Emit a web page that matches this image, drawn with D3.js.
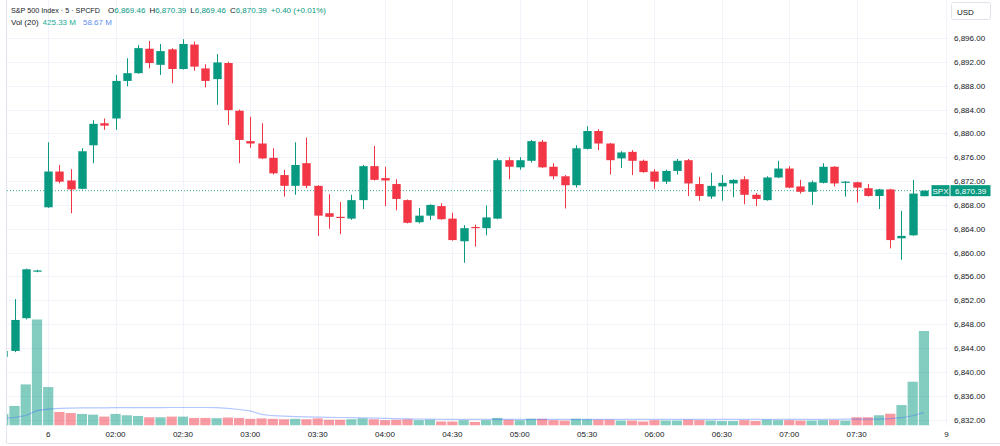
<!DOCTYPE html>
<html>
<head>
<meta charset="utf-8">
<script src="https://cdn.jsdelivr.net/npm/d3@7"></script>
<style>
  body { margin: 0; background: #fff; }
  svg { display: block; font-family: "Liberation Sans", Arial, sans-serif; }
</style>
</head>
<body>
<svg id="chart" width="1000" height="446"></svg>
<script>
// --- Data (5 min bars, first bar index -4) ---
const firstIndex = -4;
const opens = [6842.5, 6843.5, 6849.0, 6856.8, 6867.6, 6873.6, 6872.1, 6870.7, 6878.0, 6881.7,
  6882.5, 6888.8, 6890.1, 6894.2, 6891.5, 6894.1, 6890.8, 6894.9, 6890.9, 6889.1,
  6891.8, 6883.8, 6878.7, 6878.3, 6875.9, 6873.0, 6871.2, 6875.0, 6871.2, 6866.6,
  6866.0, 6865.7, 6868.8, 6874.5, 6872.5, 6871.5, 6868.8, 6865.1, 6866.2, 6867.8,
  6865.7, 6861.9, 6864.3, 6864.1, 6865.7, 6875.5, 6874.3, 6875.4, 6878.6, 6874.4,
  6872.8, 6871.3, 6877.4, 6880.4, 6878.3, 6875.8, 6876.9, 6875.4, 6873.6, 6871.9,
  6873.7, 6875.5, 6871.5, 6869.4, 6871.1, 6871.6, 6872.3, 6869.7, 6868.8, 6872.6,
  6874.1, 6871.1, 6870.2, 6871.7, 6874.4, 6871.7, 6871.8, 6870.8, 6869.5, 6870.6,
  6862.4, 6862.9, 6869.46];
const highs = [6843.6, 6852.2, 6857.3, 6857.1, 6878.5, 6874.7, 6874.0, 6877.5, 6882.2, 6882.5,
  6889.8, 6892.6, 6894.8, 6895.5, 6895.0, 6894.3, 6895.8, 6895.4, 6891.6, 6893.3,
  6892.0, 6884.0, 6882.8, 6881.7, 6877.5, 6873.9, 6878.5, 6879.3, 6871.3, 6869.8,
  6868.5, 6869.7, 6874.7, 6877.9, 6874.4, 6872.3, 6868.9, 6867.5, 6868.1, 6868.3,
  6866.7, 6864.6, 6864.7, 6867.9, 6875.8, 6876.0, 6876.0, 6878.9, 6878.9, 6875.0,
  6873.0, 6878.0, 6881.2, 6880.7, 6878.4, 6877.0, 6877.2, 6875.6, 6874.0, 6873.9,
  6875.7, 6875.7, 6872.7, 6873.4, 6873.0, 6872.3, 6872.8, 6870.0, 6872.8, 6875.4,
  6874.5, 6872.2, 6872.1, 6875.0, 6874.5, 6872.0, 6871.9, 6871.5, 6870.7, 6870.7,
  6867.0, 6872.2, 6870.39];
const lows = [6842.4, 6843.3, 6848.8, 6856.7, 6867.5, 6871.6, 6866.6, 6870.6, 6875.0, 6880.6,
  6880.6, 6887.9, 6890.0, 6890.9, 6889.8, 6888.4, 6890.7, 6890.5, 6887.7, 6884.8,
  6881.4, 6875.0, 6877.6, 6875.7, 6873.1, 6869.4, 6869.7, 6870.8, 6862.8, 6864.0,
  6863.1, 6865.5, 6867.3, 6872.1, 6867.8, 6867.1, 6864.9, 6864.9, 6865.5, 6865.5,
  6862.0, 6858.3, 6861.0, 6862.9, 6865.6, 6872.3, 6873.9, 6875.1, 6874.2, 6872.3,
  6867.4, 6870.9, 6877.3, 6877.2, 6873.1, 6874.2, 6873.0, 6873.4, 6870.7, 6871.5,
  6873.1, 6869.5, 6868.7, 6869.0, 6868.7, 6869.3, 6868.1, 6867.8, 6868.7, 6872.5,
  6870.8, 6869.9, 6868.0, 6871.6, 6871.1, 6869.4, 6868.4, 6869.4, 6867.3, 6860.7,
  6858.8, 6862.8, 6869.46];
const closes = [6843.5, 6848.7, 6857.2, 6857.0, 6873.6, 6871.9, 6870.6, 6877.0, 6881.6, 6881.3,
  6888.8, 6890.1, 6894.3, 6891.8, 6893.8, 6890.8, 6895.0, 6891.2, 6888.8, 6891.9,
  6883.9, 6878.9, 6878.3, 6875.8, 6873.3, 6871.2, 6874.7, 6871.2, 6866.2, 6866.0,
  6865.8, 6868.8, 6874.5, 6872.2, 6872.1, 6869.0, 6865.0, 6866.2, 6868.0, 6865.6,
  6862.1, 6864.1, 6864.1, 6865.9, 6875.5, 6874.4, 6875.5, 6878.7, 6874.3, 6872.8,
  6871.3, 6877.5, 6880.4, 6878.3, 6875.5, 6876.8, 6875.4, 6873.5, 6871.9, 6873.7,
  6875.4, 6871.6, 6869.5, 6871.2, 6871.7, 6872.2, 6869.7, 6869.0, 6872.6, 6874.1,
  6870.9, 6870.2, 6871.8, 6874.4, 6871.6, 6871.9, 6870.9, 6869.5, 6870.6, 6862.1,
  6862.8, 6869.9, 6870.39];
// volume in millions
const volumes = [52, 88, 185, 477, 173, 61, 56, 52, 49, 40,
  52, 46, 43, 37, 37, 40, 40, 34, 34, 33,
  36, 34, 30, 32, 30, 28, 30, 28, 32, 26,
  26, 28, 32, 28, 24, 26, 28, 24, 26, 18,
  18, 24, 16, 24, 34, 26, 24, 30, 30, 24,
  22, 30, 28, 26, 26, 22, 22, 18, 24, 22,
  22, 26, 24, 22, 20, 20, 24, 20, 26, 24,
  24, 22, 22, 24, 24, 22, 37, 37, 46, 53,
  92, 197, 425.33];
const volumeMA = [32, 36, 45, 67, 74, 77, 78, 79, 79, 79,
  80, 80, 80, 80, 80, 81, 81, 81, 81, 80,
  77, 72, 66, 50, 44, 42, 40, 39, 38, 37,
  36, 35, 34, 33, 32, 31, 30, 29, 29, 28,
  28, 28, 28, 28, 28, 28, 28, 28, 28, 28,
  28, 28, 28, 28, 28, 28, 28, 28, 28, 28,
  28, 28, 28, 28, 28, 28, 28, 28, 28, 28,
  28, 28, 28, 28, 28, 29, 29, 29, 29, 31,
  35, 44, 58.67];
const priceTicks = d3.range(6832, 6897, 4);
const timeTickIndex = [0, 6, 12, 18, 24, 30, 36, 42, 48, 54, 60, 66, 72, 80];
const timeTickLabels = ['6', '02:00', '02:30', '03:00', '03:30', '04:00', '04:30',
  '05:00', '05:30', '06:00', '06:30', '07:00', '07:30', '9'];
const lastPrice = 6870.39;

const bars = opens.map((o, i) => ({
  idx: firstIndex + i, o, h: highs[i], l: lows[i], c: closes[i], v: volumes[i], ma: volumeMA[i]
}));

// --- Layout ---
const up = '#089981', down = '#f23645';
const upVol = 'rgba(8,153,129,0.5)', downVol = 'rgba(242,54,69,0.5)';
const grid = '#f0f3fa';
const pane = { left: 7, right: 948, top: 0, bottom: 425.5 };

const svg = d3.select('#chart');
const x = d3.scaleLinear().domain([0, 80]).range([48.2, 946.4]);
const y = d3.scaleLinear().domain([6832, 6896]).range([419.5, 38]);
const yv = d3.scaleLinear().domain([0, 500]).range([pane.bottom, pane.bottom - 111.1]);

svg.append('defs').append('clipPath').attr('id', 'pane-clip')
  .append('rect').attr('x', pane.left).attr('y', pane.top)
  .attr('width', pane.right - pane.left).attr('height', pane.bottom - pane.top);

// gridlines
const gridG = svg.append('g');
gridG.selectAll('.hgrid').data(priceTicks).join('line')
  .attr('x1', pane.left).attr('x2', pane.right)
  .attr('y1', d => Math.round(y(d)) + 0.5).attr('y2', d => Math.round(y(d)) + 0.5)
  .attr('stroke', grid);
gridG.selectAll('.vgrid').data(timeTickIndex).join('line')
  .attr('x1', d => Math.round(x(d)) + 0.5).attr('x2', d => Math.round(x(d)) + 0.5)
  .attr('y1', 0).attr('y2', pane.bottom)
  .attr('stroke', grid);

const plot = svg.append('g').attr('clip-path', 'url(#pane-clip)');

// volume bars + MA
plot.selectAll('.vol').data(bars).join('rect')
  .attr('x', d => x(d.idx) - 5.1).attr('width', 10.2)
  .attr('y', d => yv(d.v)).attr('height', d => pane.bottom - yv(d.v))
  .attr('fill', d => d.c >= d.o ? upVol : downVol);

plot.append('path').datum(bars)
  .attr('fill', 'none').attr('stroke', 'rgba(41,98,255,0.35)').attr('stroke-width', 1.2)
  .attr('d', d3.line().x(d => x(d.idx)).y(d => yv(d.ma)));

// last price line
plot.append('line')
  .attr('x1', pane.left).attr('x2', 931)
  .attr('y1', y(lastPrice)).attr('y2', y(lastPrice))
  .attr('stroke', up).attr('stroke-dasharray', '1,2').attr('opacity', 0.8);

// candles
const candle = plot.selectAll('.candle').data(bars).join('g')
  .attr('fill', d => d.c >= d.o ? up : down)
  .attr('stroke', d => d.c >= d.o ? up : down);
candle.append('line')
  .attr('x1', d => Math.round(x(d.idx)) + 0.5).attr('x2', d => Math.round(x(d.idx)) + 0.5)
  .attr('y1', d => y(d.h)).attr('y2', d => y(d.l));
candle.append('rect')
  .attr('stroke', 'none')
  .attr('x', d => Math.round(x(d.idx)) + 0.5 - 4.2).attr('width', 8.4)
  .attr('y', d => y(Math.max(d.o, d.c)))
  .attr('height', d => Math.max(1, Math.abs(y(d.o) - y(d.c))));

// frame lines
svg.append('line').attr('x1', 6.5).attr('x2', 6.5).attr('y1', 0).attr('y2', 443)
  .attr('stroke', '#e0e3eb');
svg.append('line').attr('x1', 7).attr('x2', 1000).attr('y1', 443.5).attr('y2', 443.5)
  .attr('stroke', '#e0e3eb');

// time axis labels
svg.selectAll('.tlabel').data(timeTickIndex).join('text')
  .attr('x', d => x(d)).attr('y', 437)
  .attr('text-anchor', 'middle').attr('font-size', 8).attr('fill', '#131722')
  .text((d, i) => timeTickLabels[i]);

// price axis labels
svg.selectAll('.plabel').data(priceTicks).join('text')
  .attr('x', 954).attr('y', d => y(d) + 3)
  .attr('font-size', 8).attr('fill', '#131722')
  .text(d => d3.format(',.2f')(d));

// USD box
svg.append('rect').attr('x', 951.5).attr('y', 2.5).attr('width', 39).attr('height', 17)
  .attr('rx', 2).attr('fill', '#fff').attr('stroke', '#e0e3eb');
svg.append('text').attr('x', 957).attr('y', 14.5).attr('font-size', 8).attr('fill', '#131722').text('USD');

// last price labels
const ly = y(lastPrice);
svg.append('rect').attr('x', 931.5).attr('y', ly - 5.5).attr('width', 18).attr('height', 11)
  .attr('fill', up);
svg.append('text').attr('x', 940.5).attr('y', ly + 3).attr('text-anchor', 'middle')
  .attr('font-size', 8).attr('fill', '#fff').text('SPX');
svg.append('rect').attr('x', 950.5).attr('y', ly - 5.5).attr('width', 40).attr('height', 11)
  .attr('fill', up);
svg.append('text').attr('x', 955).attr('y', ly + 3)
  .attr('font-size', 8).attr('fill', '#fff').text(d3.format(',.2f')(lastPrice));

// legend
svg.append('text').attr('x', 11).attr('y', 12.5).attr('font-size', 7.2).attr('fill', '#131722')
  .text('S&P 500 Index · 5 · SPCFD');
const legend1 = svg.append('text').attr('x', 108).attr('y', 12.5).attr('font-size', 8).attr('fill', '#131722');
const last = bars[bars.length - 1];
[['O', last.o], ['H', last.h], ['L', last.l], ['C', last.c]].forEach(([k, v], i) => {
  legend1.append('tspan').attr('dx', i ? 4 : 0).text(k);
  legend1.append('tspan').attr('fill', up).text(d3.format(',.2f')(v));
});
legend1.append('tspan').attr('dx', 4).attr('fill', up).text('+0.40 (+0.01%)');

const legend2 = svg.append('text').attr('x', 11).attr('y', 24.5).attr('font-size', 8).attr('fill', '#131722');
legend2.append('tspan').text('Vol (20)');
legend2.append('tspan').attr('dx', 4).attr('fill', '#22ab94').text(last.v.toFixed(2) + ' M');
legend2.append('tspan').attr('dx', 7).attr('fill', '#5b8def').text(last.ma.toFixed(2) + ' M');
</script>
</body>
</html>
